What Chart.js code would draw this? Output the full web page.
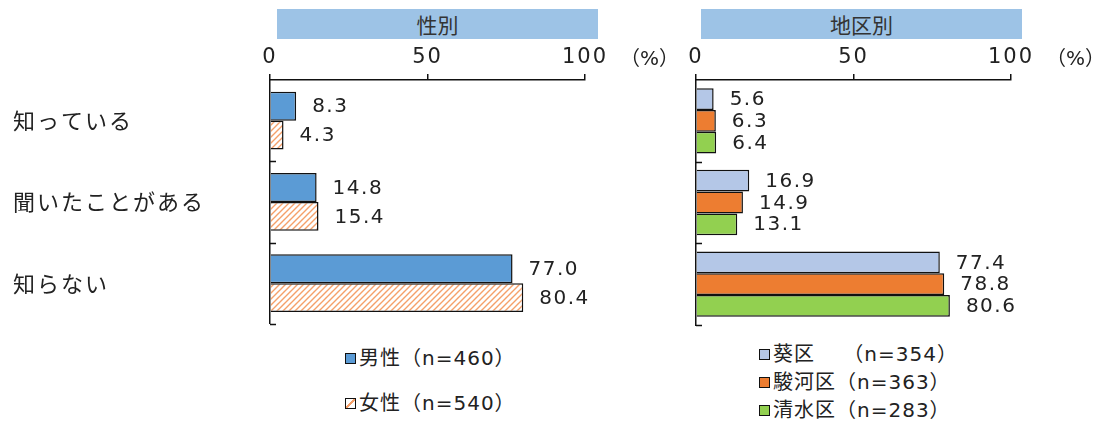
<!DOCTYPE html>
<html>
<head>
<meta charset="utf-8">
<script src="https://cdn.jsdelivr.net/npm/chart.js@4"></script>
<style>
  body { margin: 0; background: #fff; width: 1095px; height: 424px; overflow: hidden; position: relative;
         font-family: "DejaVu Sans", "Noto Sans CJK JP", sans-serif; color: #222; }
  .wrap { position: absolute; top: 0; }
  .header { position: absolute; top: 9px; height: 30px; background: #9DC3E6; text-align: center;
            font-family: "Noto Sans CJK JP", sans-serif; font-size: 21px; line-height: 30px; color: #333; }
  .legend { position: absolute; font-size: 20px; letter-spacing: 1px; color: #222; }
  .legend div { height: 28px; line-height: 28px; white-space: pre; }
  .legend span.box { display: inline-block; width: 9px; height: 9px; border: 1.5px solid #111;
                     margin-right: 3px; vertical-align: 1px; }
</style>
</head>
<body>
<div class="header" style="left:277px;width:321px;">性別</div>
<div class="header" style="left:701px;width:321px;">地区別</div>
<div class="wrap" style="left:0;width:680px;height:340px;"><canvas id="genderChart"></canvas></div>
<div class="wrap" style="left:680px;width:415px;height:340px;"><canvas id="areaChart"></canvas></div>
<div class="legend" id="genderLegend" style="left:345px;top:344px;"></div>
<div class="legend" id="areaLegend" style="left:759px;top:340px;"></div>
<script>
const categories = ["知っている", "聞いたことがある", "知らない"];
const xTicks = [0, 50, 100];

const genderLabels = ["男性（n=460）", "女性（n=540）"];
const maleValues = [8.3, 14.8, 77.0];
const femaleValues = [4.3, 15.4, 80.4];

const areaLabels = ["葵区　 （n=354）", "駿河区（n=363）", "清水区（n=283）"];
const aoiValues = [5.6, 16.9, 77.4];
const surugaValues = [6.3, 14.9, 78.8];
const shimizuValues = [6.4, 13.1, 80.6];

const CJK = '"Noto Sans CJK JP", sans-serif';
const NUM = '"DejaVu Sans", "Noto Sans CJK JP", sans-serif';

// orange diagonal hatch for 女性
function makeHatch() {
  const c = document.createElement("canvas");
  c.width = 6; c.height = 6;
  const g = c.getContext("2d");
  g.fillStyle = "#fff";
  g.fillRect(0, 0, 6, 6);
  g.strokeStyle = "#F5A06A";
  g.lineWidth = 1.4;
  g.beginPath();
  g.moveTo(-1, 7); g.lineTo(7, -1);
  g.moveTo(-1, 1); g.lineTo(1, -1);
  g.moveTo(5, 7); g.lineTo(7, 5);
  g.stroke();
  return g.createPattern(c, "repeat");
}
const hatch = makeHatch();

// wider glyph spacing, like the original rounded font
const spacing = {
  id: "spacing",
  beforeDraw(chart) { chart.ctx.letterSpacing = "2px"; }
};

// value labels right of each bar + inward category ticks + (%) label
const extras = {
  id: "extras",
  afterDatasetsDraw(chart) {
    const ctx = chart.ctx;
    ctx.save();
    ctx.letterSpacing = "1.5px";
    ctx.font = "20px " + NUM;
    ctx.fillStyle = "#222";
    ctx.textBaseline = "middle";
    ctx.textAlign = "left";
    chart.data.datasets.forEach((ds, i) => {
      chart.getDatasetMeta(i).data.forEach((bar, j) => {
        ctx.fillText(ds.data[j].toFixed(1), bar.x + 16, bar.y + 1);
      });
    });
    const y = chart.scales.y;
    const x = chart.scales.x;
    const n = chart.data.labels.length;
    const band = (y.bottom - y.top) / n;
    ctx.strokeStyle = "#111";
    ctx.lineWidth = 1.5;
    ctx.beginPath();
    for (let k = 1; k <= n; k++) {
      const py = Math.round(y.top + band * k) + 0.5;
      ctx.moveTo(x.left, py);
      ctx.lineTo(x.left + 6, py);
    }
    ctx.stroke();
    ctx.letterSpacing = "0px";
    ctx.font = "20px " + NUM;
    ctx.fillText("（%）", x.right + 35, 60);
    ctx.restore();
  }
};

function makeOptions(leftWidth, showLabels) {
  return {
    responsive: true,
    maintainAspectRatio: false,
    animation: false,
    indexAxis: "y",
    layout: { padding: { left: showLabels ? 13 : 0, top: 0, bottom: 15, right: showLabels ? 95 : 84 } },
    plugins: { legend: { display: false }, tooltip: { enabled: false } },
    scales: {
      x: {
        position: "top",
        min: 0, max: 100,
        afterBuildTicks: s => { s.ticks = xTicks.map(v => ({ value: v })); },
        afterFit: s => { s.height = 80; },
        border: { color: "#111", width: 1.5 },
        grid: { drawOnChartArea: false, drawTicks: true, tickLength: 6, color: "#111", lineWidth: 1.5 },
        ticks: { color: "#222", font: { size: 21, family: NUM }, padding: 4 }
      },
      y: {
        afterFit: s => { s.width = leftWidth; },
        border: { color: "#111", width: 1.5 },
        grid: { display: false },
        ticks: {
          display: showLabels,
          crossAlign: "far",
          color: "#222",
          font: { size: 22, family: CJK }
        }
      }
    }
  };
}

new Chart(document.getElementById("genderChart"), {
  type: "bar",
  data: {
    labels: categories,
    datasets: [
      { label: genderLabels[0], data: maleValues, backgroundColor: "#5B9BD5", borderColor: "#111", borderWidth: 1.5,
        categoryPercentage: 0.71, barPercentage: 1.0 },
      { label: genderLabels[1], data: femaleValues, backgroundColor: hatch, borderColor: "#111", borderWidth: 1.5,
        categoryPercentage: 0.71, barPercentage: 1.0 }
    ]
  },
  options: makeOptions(257, true),
  plugins: [spacing, extras]
});

new Chart(document.getElementById("areaChart"), {
  type: "bar",
  data: {
    labels: categories,
    datasets: [
      { label: areaLabels[0], data: aoiValues, backgroundColor: "#B4C7E7", borderColor: "#111", borderWidth: 1.5,
        categoryPercentage: 0.8, barPercentage: 1.0 },
      { label: areaLabels[1], data: surugaValues, backgroundColor: "#ED7D31", borderColor: "#111", borderWidth: 1.5,
        categoryPercentage: 0.8, barPercentage: 1.0 },
      { label: areaLabels[2], data: shimizuValues, backgroundColor: "#92D050", borderColor: "#111", borderWidth: 1.5,
        categoryPercentage: 0.8, barPercentage: 1.0 }
    ]
  },
  options: makeOptions(16, false),
  plugins: [spacing, extras]
});

// HTML legends
function fillLegend(id, labels, colors, hatched) {
  const el = document.getElementById(id);
  labels.forEach((label, i) => {
    const row = document.createElement("div");
    const box = document.createElement("span");
    box.className = "box";
    if (hatched[i]) {
      box.style.background = "linear-gradient(135deg, #fff 40%, #F5A06A 40%, #F5A06A 60%, #fff 60%)";
    } else {
      box.style.background = colors[i];
    }
    row.appendChild(box);
    row.appendChild(document.createTextNode(label));
    el.appendChild(row);
  });
}
fillLegend("genderLegend", genderLabels, ["#5B9BD5", null], [false, true]);
document.querySelector("#genderLegend div:nth-child(2)").style.marginTop = "17px";
fillLegend("areaLegend", areaLabels, ["#B4C7E7", "#ED7D31", "#92D050"], [false, false, false]);
</script>
</body>
</html>
